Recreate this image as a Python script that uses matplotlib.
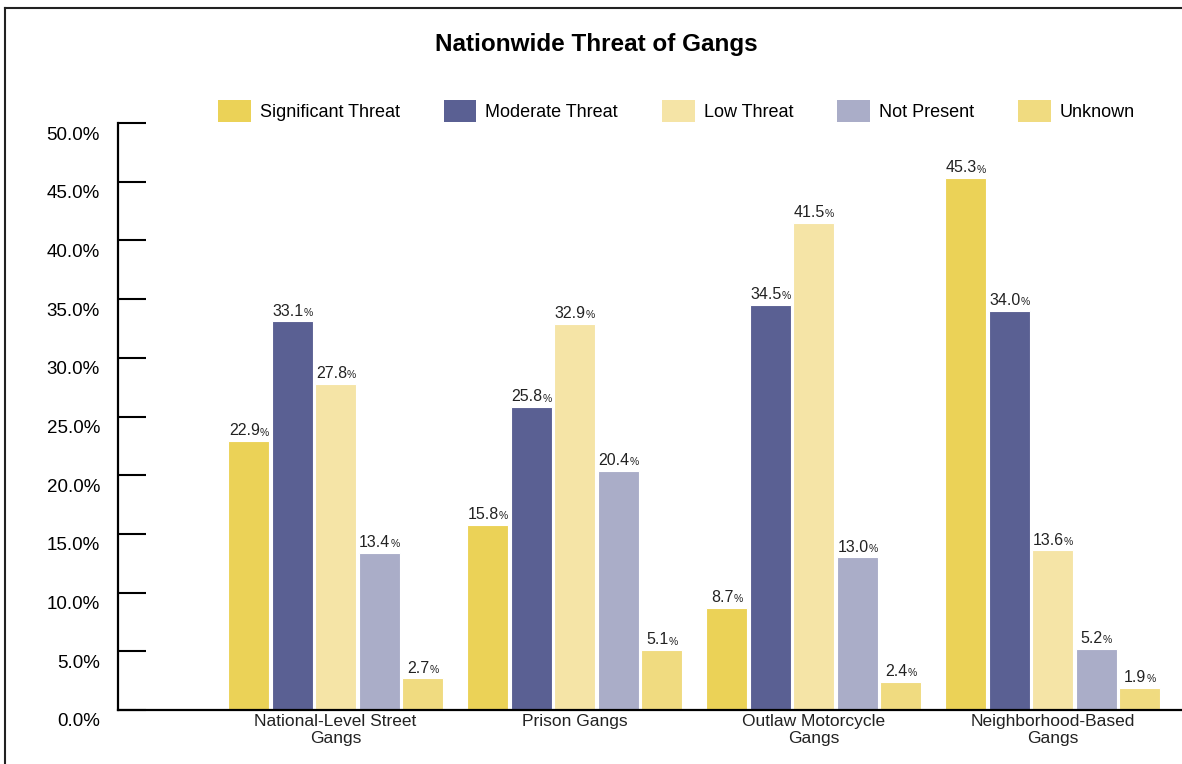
import matplotlib
matplotlib.use("Agg")
import matplotlib.pyplot as plt
import matplotlib.transforms as mtransforms
from matplotlib.patches import Patch
from matplotlib.lines import Line2D
import numpy as np

plt.rcParams["font.family"] = ["Liberation Sans", "DejaVu Sans"]

groups = ["National-Level Street\nGangs", "Prison Gangs",
          "Outlaw Motorcycle\nGangs", "Neighborhood-Based\nGangs"]
series = ["Significant Threat", "Moderate Threat", "Low Threat",
          "Not Present", "Unknown"]
significant = [22.9, 15.8, 8.7, 45.3]
moderate = [33.1, 25.8, 34.5, 34.0]
low = [27.8, 32.9, 41.5, 13.6]
not_present = [13.4, 20.4, 13.0, 5.2]
unknown = [2.7, 5.1, 2.4, 1.9]
values = [significant, moderate, low, not_present, unknown]
colors = ["#EBD257", "#5A6093", "#F5E4A6", "#AAADC8", "#F0DB80"]

fig = plt.figure(figsize=(11.82, 7.64), dpi=100)
ax = fig.add_axes([118 / 1182, 54 / 764, 1 - 118 / 1182, (710 - 123) / 764])

x = np.arange(len(groups))
step = 43.5 / 239
width = 41 / 239
for i, (vals, col) in enumerate(zip(values, colors)):
    pos = x + (i - 2) * step
    ax.bar(pos, vals, width=width, color=col, edgecolor="white", linewidth=0.8)
    for px, v in zip(pos, vals):
        t = ax.annotate(f"{v:.1f}", xy=(px, v), xytext=(-3, 2),
                        textcoords="offset points", ha="center", va="bottom",
                        fontsize=11.5, color="#222222")
        ax.annotate("%", xy=(1, 0), xycoords=t, xytext=(0, 0.5),
                    textcoords="offset points", ha="left", va="bottom",
                    fontsize=7.5, color="#222222")

ax.set_xlim((118 - 335.5) / 239, (1182 - 335.5) / 239)
ax.set_ylim(0, 50)
ax.set_yticks(np.arange(0, 50.1, 5))
ax.set_yticklabels([f"{v:.1f}%" for v in np.arange(0, 50.1, 5)], fontsize=13.5)
ax.tick_params(axis="y", direction="in", length=20, width=1.5, pad=13)
offset = mtransforms.ScaledTranslation(0, -10 / 100, fig.dpi_scale_trans)
for lab in ax.get_yticklabels():
    lab.set_transform(lab.get_transform() + offset)

ax.set_xticks(x)
ax.set_xticklabels(groups, fontsize=12.5, linespacing=1.15, color="#222222")
ax.tick_params(axis="x", length=0, pad=3)

for s in ["top", "right"]:
    ax.spines[s].set_visible(False)
ax.spines["left"].set_linewidth(1.6)
ax.spines["bottom"].set_linewidth(1.6)

fig.text(596 / 1182, 1 - 45 / 764, "Nationwide Threat of Gangs",
         ha="center", va="center", fontsize=17.5, fontweight="bold")

handles = [Patch(facecolor=c, edgecolor="none") for c in colors]
fig.legend(handles, series, loc="center", bbox_to_anchor=(676.5 / 1182, 1 - 111 / 764),
           ncol=5, frameon=False, fontsize=13, handlelength=1.8, handleheight=1.5,
           handletextpad=0.5, columnspacing=2.45)

# page frame (left and top edges visible)
fig.add_artist(Line2D([5 / 1182, 5 / 1182], [0, 1 - 8 / 764], color="#222222", lw=1.5))
fig.add_artist(Line2D([5 / 1182, 1], [1 - 8 / 764, 1 - 8 / 764], color="#222222", lw=1.5))

fig.savefig("out.png", dpi=100)
